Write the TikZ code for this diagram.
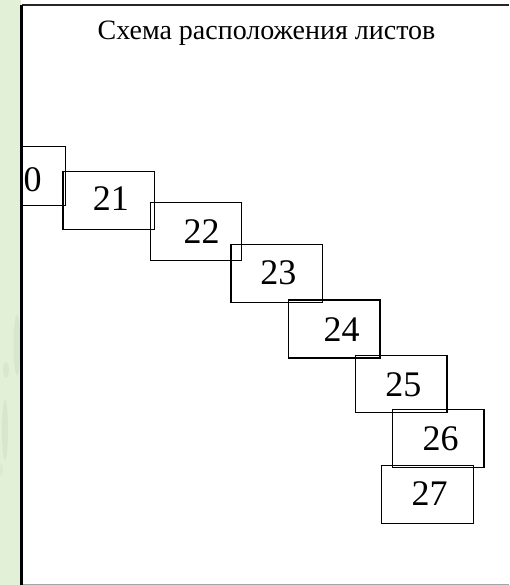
\documentclass[tikz,border=0pt]{standalone}
\usepackage{fontspec}
\setmainfont{Liberation Serif}
\definecolor{stripgreen}{RGB}{226,240,216}
\definecolor{smudge}{RGB}{150,180,140}
\begin{document}
\begin{tikzpicture}[x=1pt,y=-1pt,
  sheet/.style={draw=black,line width=1.3pt,inner sep=0pt},
  num/.style={anchor=base,inner sep=0pt,font=\fontsize{36}{40}\selectfont},
  title/.style={anchor=base,inner sep=0pt,font=\fontsize{28}{32}\selectfont}]
\useasboundingbox (0,0) rectangle (509,585);
\fill[white] (0,0) rectangle (509,585);
% green strip
\fill[stripgreen] (0,0) rectangle (21,585);
\fill[smudge,opacity=0.14] (17,345) ellipse (3.5 and 30);
\fill[smudge,opacity=0.12] (6,370) ellipse (3 and 8);
\fill[smudge,opacity=0.14] (5,430) ellipse (3 and 30);
\fill[smudge,opacity=0.10] (1,470) ellipse (2 and 6);
% frame lines
\coordinate (tl) at (21.5,5);
\coordinate (tr) at (509,5);
\coordinate (bl) at (21.5,585);
\coordinate (bl2) at (22,584);
\coordinate (br) at (509,584);
\draw[line width=1.6pt,black!85] (tl) -- (tr);
\draw[line width=1pt,black!35] (bl2) -- (br);
% title
\node[title] (t) at (266.5,40) {Схема расположения листов};
% sheets (boxes)
\node[sheet,minimum width=44pt,minimum height=58.6pt] (b0) at (43.8,176) {};
\node[sheet,minimum width=91.3pt,minimum height=57.6pt] (b21) at (108.7,200.5) {};
\node[sheet,minimum width=91pt,minimum height=58.4pt] (b22) at (196.2,231.5) {};
\node[sheet,minimum width=91.3pt,minimum height=58pt] (b23) at (276.7,273.3) {};
\node[sheet,minimum width=91.7pt,minimum height=58pt] (b24) at (334.2,329) {};
\node[sheet,minimum width=91.3pt,minimum height=57pt] (b25) at (401.3,384.2) {};
\node[sheet,minimum width=91.3pt,minimum height=58.4pt] (b26) at (438.4,438.5) {};
\node[sheet,minimum width=92pt,minimum height=58.4pt] (b27) at (427.7,494.5) {};
% left vertical line (over the 0 box edge)
\draw[line width=2.2pt,black] (tl) -- (bl);
% numbers
\node[inner sep=0pt,anchor=base west,font=\fontsize{36}{40}\selectfont] (n0) at (23.5,191) {0};
\node[num] (n21) at (110.8,210) {21};
\node[num] (n22) at (201.7,243.3) {22};
\node[num] (n23) at (278.3,284.3) {23};
\node[num] (n24) at (341.7,341) {24};
\node[num] (n25) at (403.3,396) {25};
\node[num] (n26) at (440.5,450.7) {26};
\node[num] (n27) at (429.7,505.7) {27};
\end{tikzpicture}
\end{document}
